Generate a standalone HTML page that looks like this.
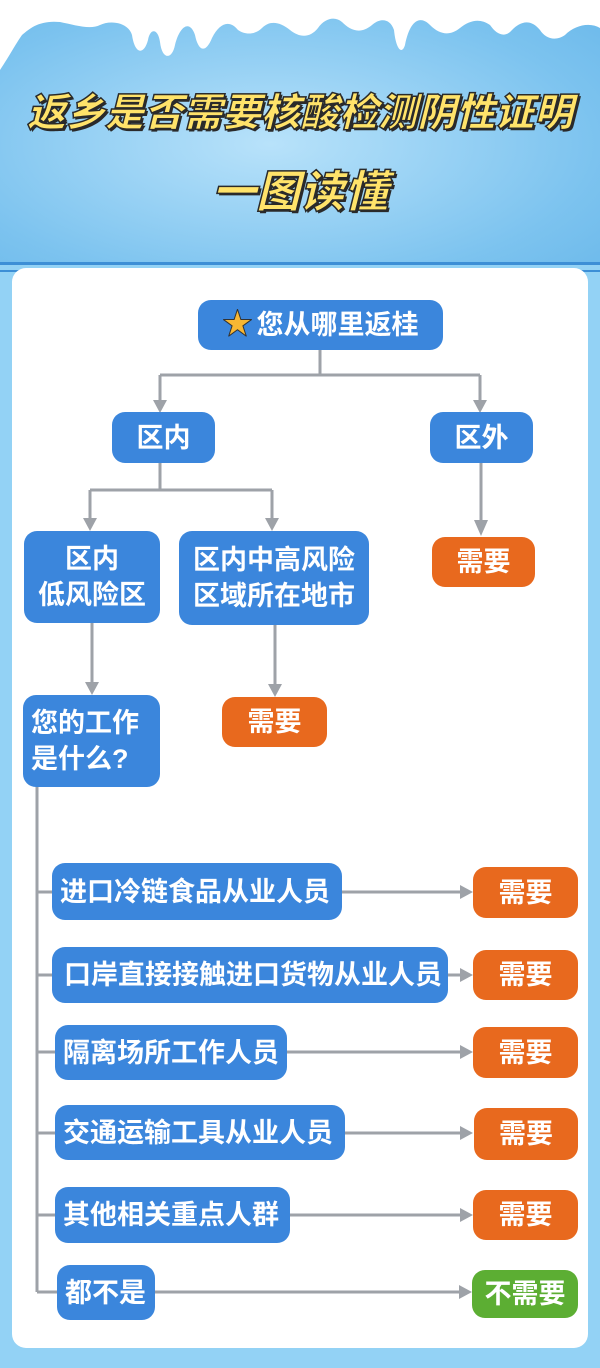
<!DOCTYPE html>
<html><head><meta charset="utf-8"><style>
*{margin:0;padding:0;box-sizing:border-box}
body{width:600px;height:1368px;position:relative;overflow:hidden;background:#93d2f5;font-family:"Liberation Sans","Noto Sans CJK SC",sans-serif}
.hdr{position:absolute;left:0;top:0;width:600px;height:262px;background:radial-gradient(ellipse at 45% 55%,#b8e2fa 0%,#7cc3ef 70%,#6ab8ea 100%)}
.t{position:absolute;left:0;width:600px;text-align:center;font-weight:900;font-style:italic;color:#ffe36a;-webkit-text-stroke:1.5px #2a2a2a;text-shadow:2px 2px 0 #2a2a2a;font-size:39px;letter-spacing:0px;white-space:nowrap}
.card{position:absolute;left:12px;top:268px;width:576px;height:1080px;background:#fff;border-radius:14px}
.b{position:absolute;background:#3b86dc;color:#fff;border-radius:13px;display:flex;align-items:center;justify-content:center;text-align:center;font-size:27px;font-weight:bold;line-height:36px;white-space:nowrap}
.o{background:#e8691e}
.g{background:#5cae33}
.l{justify-content:flex-start;padding-left:8px}
svg{position:absolute;left:0;top:0}
</style></head><body>
<div class="hdr"></div>
<svg width="600" height="300">
<path d="M0 0H600V28C590 22 575 25 565 35C555 42 545 38 540 30C530 18 520 22 512 30C505 38 497 35 490 25C480 18 470 20 460 28C450 36 440 35 430 25C420 15 410 20 405 45C402 55 396 50 394 30C390 18 380 18 372 25C360 35 350 30 342 22C335 16 325 18 318 28C310 38 300 38 290 30C280 22 270 20 262 28C255 35 245 35 238 30C230 20 220 22 212 38C205 55 198 50 195 35C190 20 180 25 175 45C172 60 162 60 160 42C158 28 150 28 148 40C144 55 135 55 132 35C128 22 110 20 100 25C90 30 75 25 60 22C40 20 30 28 22 35C15 45 10 55 0 70Z" fill="#fff"/>
<rect x="0" y="262" width="600" height="3" fill="#3d8fd6"/>
<rect x="0" y="270" width="600" height="2" fill="#3d8fd6"/>
</svg>
<div class="t" style="top:82px">返乡是否需要核酸检测阴性证明</div>
<div class="t" style="top:156px;font-size:44px">一图读懂</div>
<div class="card"></div>
<svg width="600" height="1368">
<g stroke="#9ea2a8" stroke-width="3" fill="none">
<path d="M320 350V375M160 375H480M160 375V402M480 375V402"/>
<path d="M160 463V490M90 490H272M90 490V520M272 490V520"/>
<path d="M481 463V522M275 625V686M92 623V684"/>
<path d="M37 787V1292"/>
<path d="M37 892H52M342 892H462M37 975H52M448 975H462M37 1052H55M287 1052H462M37 1133H55M345 1133H462M37 1215H55M290 1215H462M37 1292H57M155 1292H462"/>
</g>
<g fill="#9ea2a8">
<path d="M153 400H167L160 413Z"/><path d="M473 400H487L480 413Z"/>
<path d="M83 518H97L90 531Z"/><path d="M265 518H279L272 531Z"/>
<path d="M474 520H488L481 536Z"/><path d="M268 684H282L275 697Z"/><path d="M85 682H99L92 695Z"/>
<path d="M460 885V899L473 892Z"/><path d="M460 968V982L473 975Z"/><path d="M460 1045V1059L473 1052Z"/><path d="M460 1126V1140L473 1133Z"/><path d="M460 1208V1222L473 1215Z"/><path d="M459 1285V1299L472 1292Z"/>
</g>
</svg>
<div class="b" style="left:198px;top:300px;width:245px;height:50px"><span style="color:#f7b733;font-size:30px;-webkit-text-stroke:1px #333;margin-right:4px">★</span>您从哪里返桂</div>
<div class="b" style="left:112px;top:412px;width:103px;height:51px">区内</div>
<div class="b" style="left:430px;top:412px;width:103px;height:51px">区外</div>
<div class="b" style="left:24px;top:531px;width:136px;height:92px">区内<br>低风险区</div>
<div class="b" style="left:179px;top:531px;width:190px;height:94px">区内中高风险<br>区域所在地市</div>
<div class="b o" style="left:432px;top:537px;width:103px;height:50px">需要</div>
<div class="b o" style="left:222px;top:697px;width:105px;height:50px">需要</div>
<div class="b l" style="left:23px;top:695px;width:137px;height:92px;text-align:left">您的工作<br>是什么?</div>
<div class="b l" style="left:52px;top:863px;width:290px;height:57px">进口冷链食品从业人员</div>
<div class="b l" style="left:52px;top:947px;width:396px;height:56px;padding-left:12px">口岸直接接触进口货物从业人员</div>
<div class="b l" style="left:55px;top:1025px;width:232px;height:55px">隔离场所工作人员</div>
<div class="b l" style="left:55px;top:1105px;width:290px;height:55px">交通运输工具从业人员</div>
<div class="b l" style="left:55px;top:1187px;width:235px;height:56px">其他相关重点人群</div>
<div class="b l" style="left:57px;top:1265px;width:98px;height:55px">都不是</div>
<div class="b o" style="left:473px;top:867px;width:105px;height:51px">需要</div>
<div class="b o" style="left:473px;top:950px;width:105px;height:50px">需要</div>
<div class="b o" style="left:473px;top:1027px;width:105px;height:51px">需要</div>
<div class="b o" style="left:474px;top:1108px;width:104px;height:52px">需要</div>
<div class="b o" style="left:473px;top:1190px;width:105px;height:50px">需要</div>
<div class="b g" style="left:472px;top:1270px;width:106px;height:48px">不需要</div>
</body></html>
